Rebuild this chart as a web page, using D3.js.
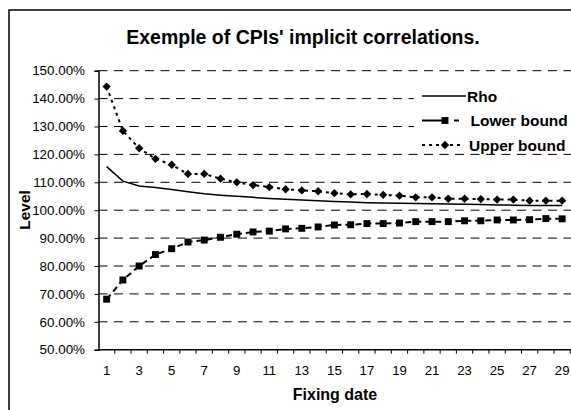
<!DOCTYPE html>
<html>
<head>
<meta charset="utf-8">
<script src="https://cdn.jsdelivr.net/npm/d3@7"></script>
<style>
  body { margin: 0; background: #fff; }
  svg text { font-family: Arial, "Liberation Sans", sans-serif; }
</style>
</head>
<body>
<div id="chart"></div>
<script>
// fixing dates 1..29
var dates = d3.range(1, 30);
var rho = [115.6, 110.4, 108.7, 108.1, 107.4, 106.6, 105.9, 105.4, 105.0, 104.6,
           104.2, 103.9, 103.7, 103.4, 103.1, 102.9, 102.7, 102.6, 102.5, 102.4,
           102.3, 102.2, 102.1, 102.0, 101.9, 101.8, 101.7, 101.7, 101.7];
var lower = [68.1, 75.0, 80.0, 84.1, 86.2, 88.6, 89.3, 90.3, 91.4, 92.2,
             92.5, 93.3, 93.5, 94.0, 94.7, 94.8, 95.2, 95.2, 95.4, 95.9,
             95.9, 95.9, 96.2, 96.2, 96.5, 96.5, 96.6, 97.0, 96.9];
var upper = [144.3, 128.4, 122.2, 118.4, 116.3, 113.0, 113.0, 111.3, 110.0, 109.0,
             108.3, 107.5, 107.1, 106.8, 106.1, 105.7, 105.8, 105.5, 105.2, 104.6,
             104.6, 104.1, 104.1, 104.0, 103.8, 103.8, 103.4, 103.4, 103.4];
var yTicks = [50, 60, 70, 80, 90, 100, 110, 120, 130, 140, 150];
var seriesNames = ["Rho", "Lower bound", "Upper bound"];

var W = 571, H = 410;
var svg = d3.select("#chart").append("svg").attr("width", W).attr("height", H);

// outer chart border (cropped on right/bottom like the picture)
svg.append("rect").attr("x", 9).attr("y", 10).attr("width", 600).attr("height", 450)
    .attr("fill", "#fff").attr("stroke", "#000").attr("stroke-width", 1.5);

var pLeft = 98.5, pRight = 570.3, pTop = 70.7, pBottom = 349.7;

var x = d3.scaleBand().domain(dates).range([pLeft, pRight]);
var y = d3.scaleLinear().domain([50, 150]).range([pBottom, pTop]);

// gridlines
svg.append("g").selectAll("line").data(yTicks.filter(function(d) { return d > 50; }))
    .enter().append("line")
    .attr("x1", pLeft).attr("x2", pRight + 4)
    .attr("y1", function(d) { return y(d); }).attr("y2", function(d) { return y(d); })
    .attr("stroke", "#000").attr("stroke-width", 1)
    .attr("stroke-dasharray", "9,6.5");

// y axis
var yAxis = d3.axisLeft(y).tickValues(yTicks).tickSize(4).tickPadding(9.5)
    .tickFormat(function(d) { return d.toFixed(2) + "%"; });
var gy = svg.append("g").attr("transform", "translate(" + pLeft + ",0)").call(yAxis);
gy.select(".domain").attr("stroke", "#000").attr("stroke-width", 1.5);
gy.selectAll(".tick line").attr("stroke", "#000");
gy.selectAll("text").attr("font-size", 13.4).attr("fill", "#000")
    .attr("font-family", "Arial, 'Liberation Sans', sans-serif");

// x axis - ticks between categories, labels on odd dates
var gx = svg.append("g").attr("transform", "translate(0," + pBottom + ")");
gx.append("line").attr("x1", pLeft).attr("x2", W).attr("y1", 0).attr("y2", 0)
    .attr("stroke", "#000").attr("stroke-width", 1.5);
gx.selectAll(".tk").data(dates).enter().append("line")
    .attr("x1", function(d) { return x(d) + x.bandwidth(); })
    .attr("x2", function(d) { return x(d) + x.bandwidth(); })
    .attr("y1", 0).attr("y2", 4).attr("stroke", "#000");
gx.selectAll(".lb").data(dates.filter(function(d) { return d % 2 === 1; }))
    .enter().append("text")
    .attr("x", function(d) { return x(d) + x.bandwidth() / 2; })
    .attr("y", 25.5).attr("text-anchor", "middle").attr("font-size", 13.2)
    .text(function(d) { return d; });

// lines
var cx = function(d, i) { return x(dates[i]) + x.bandwidth() / 2; };
var line = d3.line().x(cx).y(function(d) { return y(d); });

svg.append("path").datum(rho).attr("d", line)
    .attr("fill", "none").attr("stroke", "#000").attr("stroke-width", 1.5);
svg.append("path").datum(lower).attr("d", line)
    .attr("fill", "none").attr("stroke", "#000").attr("stroke-width", 2)
    .attr("stroke-dasharray", "6,4");
svg.append("path").datum(upper).attr("d", line)
    .attr("fill", "none").attr("stroke", "#000").attr("stroke-width", 2)
    .attr("stroke-dasharray", "3,4");

var sq = d3.symbol().type(d3.symbolSquare).size(48);
var dm = d3.symbol().type(d3.symbolDiamond2).size(44);
svg.append("g").selectAll("path").data(lower).enter().append("path")
    .attr("d", sq).attr("fill", "#000")
    .attr("transform", function(d, i) { return "translate(" + cx(d, i) + "," + y(d) + ")"; });
svg.append("g").selectAll("path").data(upper).enter().append("path")
    .attr("d", dm).attr("fill", "#000")
    .attr("transform", function(d, i) { return "translate(" + cx(d, i) + "," + y(d) + ")"; });

// legend
var lg = svg.append("g");
lg.append("rect").attr("x", 414).attr("y", 85).attr("width", 160).attr("height", 67).attr("fill", "#fff");
var ly = [96, 120.5, 145];
seriesNames.forEach(function(name, i) {
    var l = lg.append("line").attr("x1", 422).attr("x2", i === 0 ? 466 : 462)
        .attr("y1", ly[i]).attr("y2", ly[i]).attr("stroke", "#000");
    if (i === 0) l.attr("stroke-width", 1.5);
    if (i === 1) l.attr("stroke-width", 2).attr("stroke-dasharray", "20,12,5");
    if (i === 2) l.attr("stroke-width", 2).attr("stroke-dasharray", "3,4");
    if (i === 1) lg.append("path").attr("d", sq).attr("fill", "#000")
        .attr("transform", "translate(445," + ly[i] + ")");
    if (i === 2) lg.append("path").attr("d", dm).attr("fill", "#000")
        .attr("transform", "translate(445," + ly[i] + ")");
    lg.append("text").attr("x", i === 0 ? 467 : (i === 1 ? 470.5 : 469)).attr("y", ly[i] + 5.5)
        .attr("font-size", 15.5).attr("font-weight", "bold").text(name);
});

// titles
svg.append("text").attr("x", 303).attr("y", 43.5).attr("text-anchor", "middle")
    .attr("font-size", 19.5).attr("font-weight", "bold")
    .text("Exemple of CPIs' implicit correlations.");
svg.append("text").attr("transform", "translate(30,210) rotate(-90)")
    .attr("text-anchor", "middle").attr("font-size", 15.5).attr("font-weight", "bold")
    .text("Level");
svg.append("text").attr("x", 335).attr("y", 400).attr("text-anchor", "middle")
    .attr("font-size", 16).attr("font-weight", "bold").text("Fixing date");
</script>
</body>
</html>
